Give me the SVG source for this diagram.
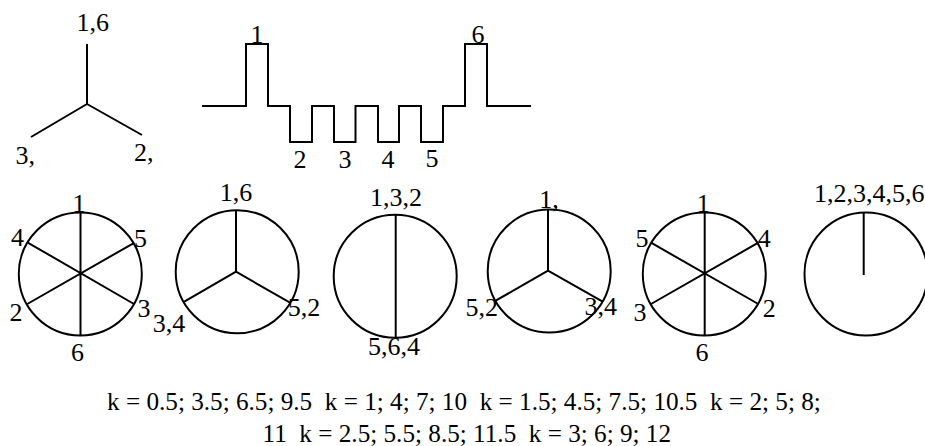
<svg xmlns="http://www.w3.org/2000/svg" width="925" height="446" viewBox="0 0 925 446">
<style>
text{font-family:"Liberation Serif","Times New Roman",serif;font-size:26px;fill:#000}
.c{text-anchor:middle}
.b{font-size:25.200px;white-space:pre}
circle,path{fill:none;stroke:#000;stroke-width:2}
</style>
<rect width="925" height="446" fill="#fff"/>
<g id="connectors">
<path d="M87 44V104M87 104L31 137M87 104L142 135"/>
<path d="M202 106H246V44H268V106H290V142H312V106H334V142H355.500V106H378V142H399V106H421V142H443V106H465V44H487V106H531"/>
</g>
<g id="star"><text class="c" x="92.700" y="31">1,6</text><text x="15.500" y="164">3,</text><text x="134" y="161">2,</text></g>
<g id="wave"><text class="c" x="257" y="43">1</text><text class="c" x="478" y="43">6</text><text class="c" x="300" y="168">2</text><text class="c" x="345" y="168">3</text><text class="c" x="388" y="168">4</text><text class="c" x="432" y="167">5</text></g>
<g id="c1"><circle cx="80.300" cy="274" r="61.500"/><path d="M80.500 212.500V335.500M27.300 242.300L134 304M27.300 304L133.300 243.300"/>
<text class="c" x="79" y="212">1</text><text class="c" x="17.500" y="246">4</text><text class="c" x="140.500" y="246.500">5</text><text class="c" x="16" y="320.500">2</text><text class="c" x="144" y="316.500">3</text><text class="c" x="77.500" y="361">6</text></g>
<g id="c2"><circle cx="237.200" cy="271.700" r="61.500"/><path d="M236 210V271.700L184.300 301.700M236 271.700L290 302.700"/>
<text class="c" x="236" y="200.500">1,6</text><text class="c" x="169" y="331.500">3,4</text><text class="c" x="304" y="315.500">5,2</text></g>
<g id="c3"><circle cx="395.200" cy="276.300" r="61.500"/><path d="M395.700 215V337.700"/>
<text class="c" x="396" y="205.500">1,3,2</text><text class="c" x="394" y="355">5,6,4</text></g>
<g id="c4"><circle cx="549.200" cy="271" r="61.500"/><path d="M548 210V270.700L495.700 300.700M548 270.700L602.700 301.700"/>
<text x="539.300" y="208">1,</text><text class="c" x="481.700" y="315.500">5,2</text><text class="c" x="600.700" y="315">3,4</text></g>
<g id="c5"><circle cx="704.300" cy="274" r="61.500"/><path d="M704.700 212.700V335.700M651 242.700L758.300 304M651 304L758.300 242.700"/>
<text class="c" x="703.300" y="212">1</text><text class="c" x="642" y="247">5</text><text class="c" x="764.300" y="246.500">4</text><text class="c" x="640" y="320.500">3</text><text class="c" x="769.300" y="316.500">2</text><text class="c" x="702" y="361">6</text></g>
<g id="c6"><circle cx="866" cy="274" r="61.500"/><path d="M863.700 213V275"/>
<text x="814" y="202">1,2,3,4,5,6</text></g>
<g id="caption"><text class="b" x="107" y="410">k = 0.5; 3.5; 6.5; 9.5  k = 1; 4; 7; 10  k = 1.5; 4.5; 7.5; 10.5  k = 2; 5; 8;</text>
<text class="b" x="262.500" y="441.500">11  k = 2.5; 5.5; 8.5; 11.5  k = 3; 6; 9; 12</text></g>
</svg>
